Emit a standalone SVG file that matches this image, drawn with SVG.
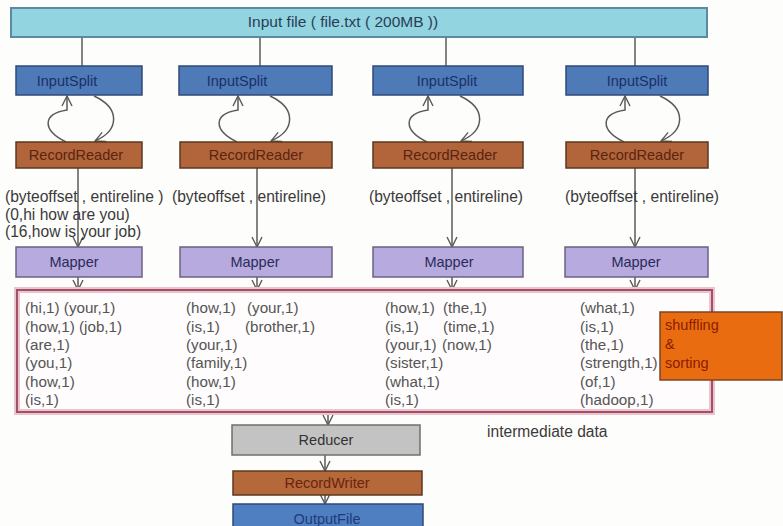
<svg xmlns="http://www.w3.org/2000/svg" width="783" height="526" viewBox="0 0 783 526">
<style>
text{font-family:"Liberation Sans",Arial,sans-serif;}
.lbl{font-size:14.5px;text-anchor:middle;}
.t{font-size:15.6px;fill:#3a3a3a;}
.kv{font-size:15.2px;fill:#555;}
.conn{fill:none;stroke:#5a5a5a;stroke-width:1.5;}
.split rect{fill:#4f7ab8;stroke:#2f4a78;stroke-width:1.5;}
.split text{fill:#1b2f68;}
.rr rect{fill:#b2653a;stroke:#5b3820;stroke-width:1.5;}
.rr text{fill:#5a2410;}
.map rect{fill:#b6aade;stroke:#6a6282;stroke-width:1.5;}
.map text{fill:#2b2b58;}
</style>
<defs>
<marker id="ah" viewBox="0 0 12 12" refX="11" refY="6" markerWidth="12" markerHeight="12" markerUnits="userSpaceOnUse" orient="auto">
<path d="M1,1 L11,6 L1,11" fill="none" stroke="#5a5a5a" stroke-width="1.4"/>
</marker>
</defs>
<rect x="0" y="0" width="783" height="526" fill="#fdfdfb"/>

<g id="connectors">
<line class="conn" x1="82" y1="37" x2="82" y2="66"/>
<line class="conn" x1="260" y1="37" x2="260" y2="66"/>
<line class="conn" x1="446" y1="37" x2="446" y2="66"/>
<line class="conn" x1="635" y1="37" x2="635" y2="66"/>
<path class="conn" d="M66,142 C42,130 42,114 67,110 L67,96" marker-end="url(#ah)"/>
<path class="conn" d="M94,96 C120,108 120,130 95,141" marker-end="url(#ah)"/>
<path class="conn" d="M237,142 C213,130 213,114 238,110 L238,96" marker-end="url(#ah)"/>
<path class="conn" d="M270,96 C296,108 296,130 271,141" marker-end="url(#ah)"/>
<path class="conn" d="M427,142 C403,130 403,114 428,110 L428,96" marker-end="url(#ah)"/>
<path class="conn" d="M460,96 C486,108 486,130 461,141" marker-end="url(#ah)"/>
<path class="conn" d="M624,142 C600,130 600,114 625,110 L625,96" marker-end="url(#ah)"/>
<path class="conn" d="M660,96 C686,108 686,130 661,141" marker-end="url(#ah)"/>
<line class="conn" x1="78" y1="168" x2="78" y2="247" marker-end="url(#ah)"/>
<line class="conn" x1="257" y1="168" x2="257" y2="247" marker-end="url(#ah)"/>
<line class="conn" x1="452" y1="168" x2="452" y2="247" marker-end="url(#ah)"/>
<line class="conn" x1="635" y1="168" x2="635" y2="247" marker-end="url(#ah)"/>
<line class="conn" x1="78" y1="277" x2="78" y2="290" marker-end="url(#ah)"/>
<line class="conn" x1="257" y1="277" x2="257" y2="290" marker-end="url(#ah)"/>
<line class="conn" x1="452" y1="277" x2="452" y2="290" marker-end="url(#ah)"/>
<line class="conn" x1="635" y1="277" x2="635" y2="290" marker-end="url(#ah)"/>
<line class="conn" x1="328" y1="412" x2="328" y2="425" marker-end="url(#ah)"/>
<line class="conn" x1="325" y1="455" x2="325" y2="471" marker-end="url(#ah)"/>
<line class="conn" x1="325" y1="495" x2="325" y2="504" marker-end="url(#ah)"/>
</g>

<g id="input-file">
<rect x="11" y="8" width="696" height="29" fill="#92d4e0" stroke="#5c8aa2" stroke-width="2"/>
<text x="343" y="27" font-size="15.5" text-anchor="middle" fill="#2a3d58">Input file ( file.txt ( 200MB ))</text>
</g>

<g id="split1" class="split"><rect x="16" y="66" width="126" height="29"/><text class="lbl" x="67" y="86">InputSplit</text></g>
<g id="split2" class="split"><rect x="179" y="66" width="153" height="29"/><text class="lbl" x="237" y="86">InputSplit</text></g>
<g id="split3" class="split"><rect x="373" y="66" width="150" height="29"/><text class="lbl" x="447" y="86">InputSplit</text></g>
<g id="split4" class="split"><rect x="566" y="66" width="142" height="29"/><text class="lbl" x="637" y="86">InputSplit</text></g>

<g id="rr1" class="rr"><rect x="16" y="142" width="126" height="26"/><text class="lbl" x="76" y="160">RecordReader</text></g>
<g id="rr2" class="rr"><rect x="180" y="142" width="152" height="26"/><text class="lbl" x="256" y="160">RecordReader</text></g>
<g id="rr3" class="rr"><rect x="373" y="142" width="150" height="26"/><text class="lbl" x="450" y="160">RecordReader</text></g>
<g id="rr4" class="rr"><rect x="566" y="142" width="142" height="26"/><text class="lbl" x="637" y="160">RecordReader</text></g>

<g id="kv-labels">
<text class="t" x="5" y="202">(byteoffset , entireline )</text>
<text class="t" x="5" y="220">(0,hi how are you)</text>
<text class="t" x="5" y="237">(16,how is your job)</text>
<text class="t" x="172" y="202">(byteoffset , entireline)</text>
<text class="t" x="369" y="202">(byteoffset , entireline)</text>
<text class="t" x="565" y="202">(byteoffset , entireline)</text>
</g>

<g id="map1" class="map"><rect x="16" y="247" width="126" height="30"/><text class="lbl" x="74" y="267">Mapper</text></g>
<g id="map2" class="map"><rect x="180" y="247" width="152" height="30"/><text class="lbl" x="255" y="267">Mapper</text></g>
<g id="map3" class="map"><rect x="373" y="247" width="150" height="30"/><text class="lbl" x="449" y="267">Mapper</text></g>
<g id="map4" class="map"><rect x="565" y="247" width="143" height="30"/><text class="lbl" x="636" y="267">Mapper</text></g>

<g id="intermediate">
<rect x="17" y="290" width="695" height="122" fill="#fefcfc" stroke="#ecc4ce" stroke-width="6"/>
<rect x="17" y="290" width="695" height="122" fill="none" stroke="#a24f68" stroke-width="2"/>
<text class="kv" x="25" y="313">(hi,1) (your,1)</text>
<text class="kv" x="25" y="332">(how,1) (job,1)</text>
<text class="kv" x="25" y="350">(are,1)</text>
<text class="kv" x="25" y="368">(you,1)</text>
<text class="kv" x="25" y="387">(how,1)</text>
<text class="kv" x="25" y="405">(is,1)</text>
<text class="kv" x="186" y="313">(how,1)</text>
<text class="kv" x="247" y="313">(your,1)</text>
<text class="kv" x="186" y="332">(is,1)</text>
<text class="kv" x="245" y="332">(brother,1)</text>
<text class="kv" x="186" y="350">(your,1)</text>
<text class="kv" x="186" y="368">(family,1)</text>
<text class="kv" x="186" y="387">(how,1)</text>
<text class="kv" x="186" y="405">(is,1)</text>
<text class="kv" x="385" y="313">(how,1)</text>
<text class="kv" x="443" y="313">(the,1)</text>
<text class="kv" x="385" y="332">(is,1)</text>
<text class="kv" x="443" y="332">(time,1)</text>
<text class="kv" x="385" y="350">(your,1)</text>
<text class="kv" x="442" y="350">(now,1)</text>
<text class="kv" x="385" y="368">(sister,1)</text>
<text class="kv" x="385" y="387">(what,1)</text>
<text class="kv" x="385" y="405">(is,1)</text>
<text class="kv" x="580" y="313">(what,1)</text>
<text class="kv" x="580" y="332">(is,1)</text>
<text class="kv" x="580" y="350">(the,1)</text>
<text class="kv" x="580" y="368">(strength,1)</text>
<text class="kv" x="580" y="387">(of,1)</text>
<text class="kv" x="580" y="405">(hadoop,1)</text>
</g>

<g id="shuffle">
<rect x="660" y="312" width="122" height="68" fill="#e96d10" stroke="#7a4524" stroke-width="1.5"/>
<text x="665" y="330" font-size="14.5" fill="#8a1c00">shuffling</text>
<text x="665" y="349" font-size="14.5" fill="#8a1c00">&amp;</text>
<text x="665" y="368" font-size="14.5" fill="#8a1c00">sorting</text>
</g>

<g id="intermediate-label">
<text class="t" x="487" y="437" fill="#444">intermediate data</text>
</g>

<g id="reducer">
<rect x="232" y="425" width="188" height="30" fill="#c3c3c3" stroke="#6f6f6f" stroke-width="1.5"/>
<text class="lbl" x="326" y="445" fill="#333">Reducer</text>
</g>
<g id="recordwriter">
<rect x="233" y="471" width="189" height="24" fill="#b5683a" stroke="#5b3820" stroke-width="1.5"/>
<text class="lbl" x="327" y="488" fill="#6a2410">RecordWriter</text>
</g>
<g id="outputfile">
<rect x="233" y="504" width="190" height="30" fill="#4f7fc0" stroke="#2f4a78" stroke-width="1.5"/>
<text class="lbl" x="327" y="524" fill="#1e3a7a">OutputFile</text>
</g>
</svg>
